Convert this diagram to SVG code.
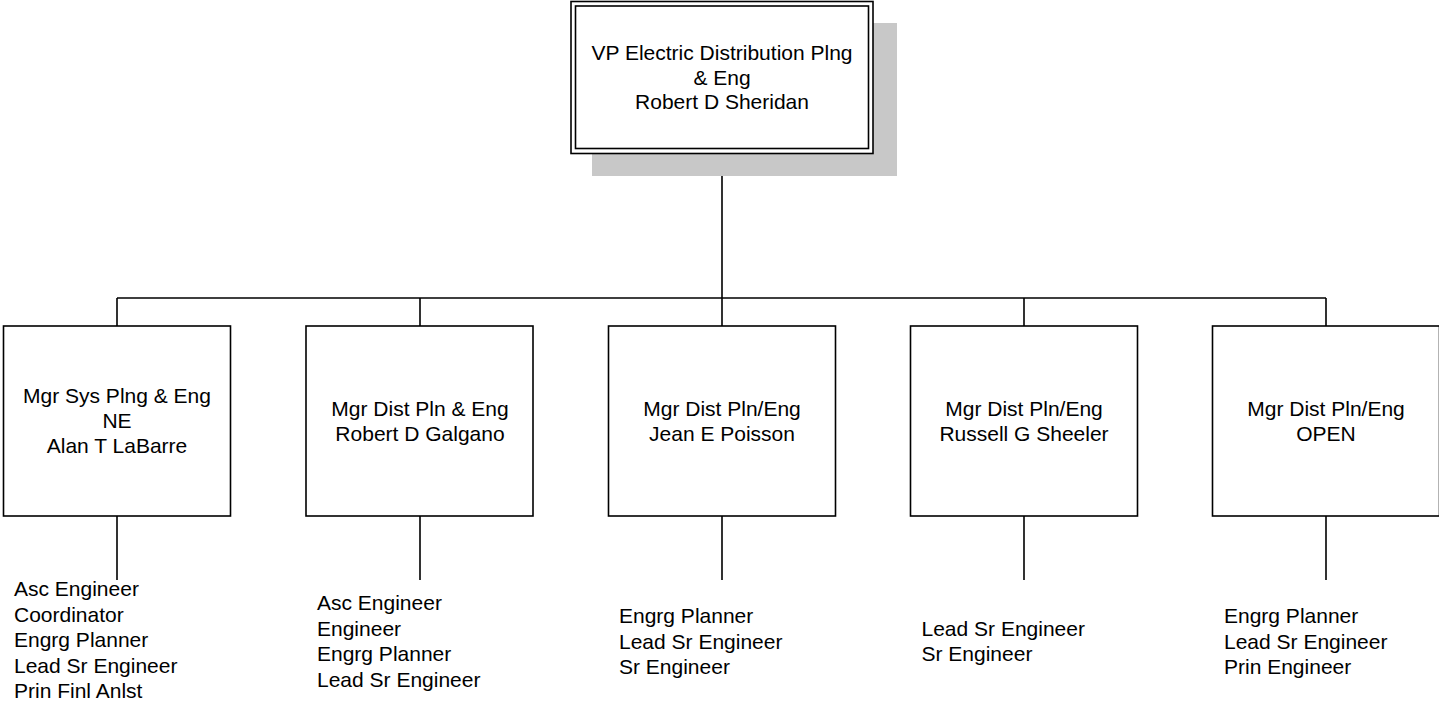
<svg xmlns="http://www.w3.org/2000/svg" width="1439" height="702" viewBox="0 0 1439 702">
<style>
text{font-family:"Liberation Sans",Arial,sans-serif;font-size:21px;fill:#000}
.c{text-anchor:middle}
.box{fill:#fff;stroke:#000;stroke-width:1.6}
.ln{stroke:#000;stroke-width:1.6;fill:none}
</style>
<rect width="1439" height="702" fill="#fff"/>
<g id="connectors">
<path class="ln" d="M722 153V298M117 298H1326M117 298V326M420 298V326M722 298V326M1024 298V326M1326 298V326"/>
<path class="ln" d="M117 516V580M420 516V580M722 516V580M1024 516V580M1326 516V580"/>
</g>
<g id="vp">
<rect x="592" y="23" width="305" height="153" fill="#c8c8c8"/>
<rect class="box" x="571" y="1.5" width="302" height="152"/>
<rect class="box" x="575.5" y="6" width="293" height="142.5"/>
<text class="c" x="722" y="60">VP Electric Distribution Plng</text>
<text class="c" x="722" y="84.5">&amp; Eng</text>
<text class="c" x="722" y="109">Robert D Sheridan</text>
</g>
<g id="mgr1">
<rect class="box" x="3.5" y="326" width="227" height="190"/>
<text class="c" x="117" y="403">Mgr Sys Plng &amp; Eng</text>
<text class="c" x="117" y="428">NE</text>
<text class="c" x="117" y="453">Alan T LaBarre</text>
</g>
<g id="mgr2">
<rect class="box" x="306" y="326" width="227" height="190"/>
<text class="c" x="420" y="416">Mgr Dist Pln &amp; Eng</text>
<text class="c" x="420" y="441">Robert D Galgano</text>
</g>
<g id="mgr3">
<rect class="box" x="608.5" y="326" width="227" height="190"/>
<text class="c" x="722" y="416">Mgr Dist Pln/Eng</text>
<text class="c" x="722" y="441">Jean E Poisson</text>
</g>
<g id="mgr4">
<rect class="box" x="910.5" y="326" width="227" height="190"/>
<text class="c" x="1024" y="416">Mgr Dist Pln/Eng</text>
<text class="c" x="1024" y="441">Russell G Sheeler</text>
</g>
<g id="mgr5">
<rect class="box" x="1212.5" y="326" width="227" height="190"/>
<text class="c" x="1326" y="416">Mgr Dist Pln/Eng</text>
<text class="c" x="1326" y="441">OPEN</text>
</g>
<g id="list1">
<text x="14" y="596">Asc Engineer</text>
<text x="14" y="621.5">Coordinator</text>
<text x="14" y="647">Engrg Planner</text>
<text x="14" y="672.5">Lead Sr Engineer</text>
<text x="14" y="698">Prin Finl Anlst</text>
</g>
<g id="list2">
<text x="317" y="610">Asc Engineer</text>
<text x="317" y="635.5">Engineer</text>
<text x="317" y="661">Engrg Planner</text>
<text x="317" y="686.5">Lead Sr Engineer</text>
</g>
<g id="list3">
<text x="619" y="623">Engrg Planner</text>
<text x="619" y="648.5">Lead Sr Engineer</text>
<text x="619" y="674">Sr Engineer</text>
</g>
<g id="list4">
<text x="921.5" y="636">Lead Sr Engineer</text>
<text x="921.5" y="661">Sr Engineer</text>
</g>
<g id="list5">
<text x="1224" y="623">Engrg Planner</text>
<text x="1224" y="648.5">Lead Sr Engineer</text>
<text x="1224" y="674">Prin Engineer</text>
</g>
</svg>
